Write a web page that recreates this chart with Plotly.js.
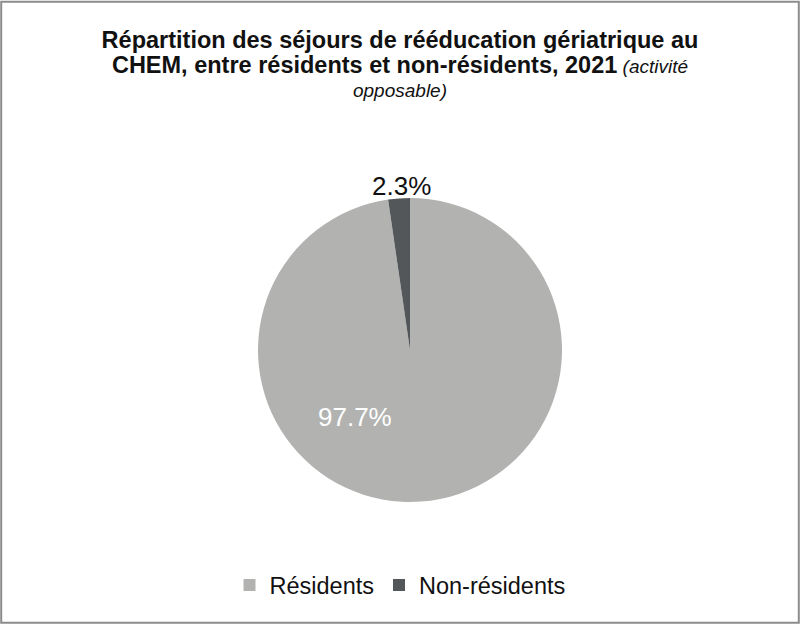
<!DOCTYPE html>
<html>
<head>
<meta charset="utf-8">
<script src="https://cdn.plot.ly/plotly-3.0.1.min.js"></script>
<style>html,body{margin:0;padding:0;background:#fff;}#chart{width:800px;height:624px;}</style>
</head>
<body>
<div id="chart"></div>
<script>
var categories = ['Résidents', 'Non-résidents'];
var values = [97.7, 2.3];
var colors = ['#b2b3b1', '#53575a'];

function fmt(v){ return v.toFixed(1) + '%'; }

var trace = {
  type: 'pie',
  labels: categories,
  values: values,
  sort: false,
  direction: 'clockwise',
  rotation: 0,
  marker: {colors: colors, line: {width: 0}},
  textinfo: 'none',
  hoverinfo: 'label+percent',
  domain: {x: [0.3225, 0.7025], y: [0.1955, 0.6827]},
  showlegend: true
};

var layout = {
  width: 800, height: 624,
  margin: {l: 0, r: 0, t: 0, b: 0},
  paper_bgcolor: '#ffffff',
  font: {family: 'Liberation Sans, Arial, sans-serif', color: '#111111'},
  title: {
    text: '<b><span style="font-size:23.5px">Répartition des séjours de rééducation gériatrique au</span></b><br><b><span style="font-size:23.5px">CHEM, entre résidents et non-résidents, 2021</span></b> <i>(activité</i><br><i>opposable)</i>',
    font: {size: 19, color: '#111111', family: 'Liberation Sans, Arial, sans-serif'},
    x: 0.5, xanchor: 'center',
    y: 1 - 48/624, yanchor: 'top', yref: 'container'
  },
  legend: {
    orientation: 'h', x: 0.5, xanchor: 'center', y: 0.062, yanchor: 'middle',
    font: {size: 23.5, color: '#111111'},
    itemwidth: 30, traceorder: 'normal'
  },
  annotations: [
    {text: fmt(values[0]), x: 355/800, y: 1 - 417/624, xref: 'paper', yref: 'paper', xanchor: 'center', yanchor: 'middle', showarrow: false, font: {size: 26, color: '#ffffff'}},
    {text: fmt(values[1]), x: 401/800, y: 1 - 186/624, xref: 'paper', yref: 'paper', xanchor: 'center', yanchor: 'middle', showarrow: false, font: {size: 26, color: '#111111'}}
  ],
  shapes: [
    {type: 'rect', xref: 'paper', yref: 'paper', x0: 0.0015, x1: 0.9985, y0: 0.002, y1: 0.997, line: {color: '#8c8c8c', width: 2}}
  ]
};

Plotly.newPlot('chart', [trace], layout, {displayModeBar: false, staticPlot: true});
</script>
</body>
</html>
